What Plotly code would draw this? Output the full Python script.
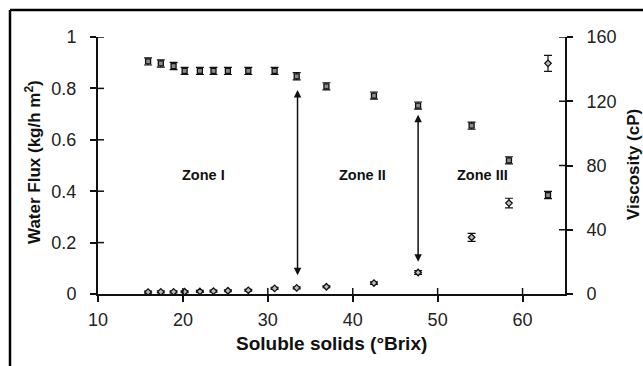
import plotly.graph_objects as go

# Data
brix = [15.9, 17.4, 18.9, 20.2, 22.0, 23.6, 25.3, 27.7, 30.8, 33.4, 36.9, 42.5, 47.7, 54.0, 58.4, 63.0]
flux = [0.905, 0.897, 0.887, 0.868, 0.868, 0.868, 0.868, 0.868, 0.868, 0.847, 0.808, 0.772, 0.733, 0.655, 0.52, 0.385]
flux_err = [0.014] * 16
visc = [1.2, 1.3, 1.3, 1.4, 1.6, 1.8, 2.0, 2.3, 3.5, 3.8, 4.5, 6.8, 13.4, 35.3, 56.6, 143.6]
visc_err = [0.6, 0.6, 0.6, 0.6, 0.6, 0.6, 0.6, 0.6, 0.6, 0.6, 0.6, 0.8, 1.2, 2.5, 3.0, 5.0]

x_ticks = [10, 20, 30, 40, 50, 60]
y1_ticks = [0, 0.2, 0.4, 0.6, 0.8, 1.0]
y1_labels = ["0", "0.2", "0.4", "0.6", "0.8", "1"]
y2_ticks = [0, 40, 80, 120, 160]

zones = ["Zone I", "Zone II", "Zone III"]
zone_x = [22.4, 41.2, 55.3]
zone_y = [0.463, 0.463, 0.463]

# arrows: (x, top, bottom)
arrow_x = [33.5, 47.7]
arrow_top = [0.794, 0.697]
arrow_bot = [0.067, 0.12]

W, H = 643, 366
L, R, T, B = 98, 78, 37, 72
pw, ph = W - L - R, H - T - B

font = "Liberation Sans, Arial, sans-serif"

fig = go.Figure()
fig.add_trace(go.Scatter(
    x=brix, y=flux, mode="markers", yaxis="y",
    marker=dict(symbol="square", size=5, color="#8a8a8a", line=dict(color="#111", width=1.3)),
    error_y=dict(type="data", array=flux_err, color="#111", thickness=1.2, width=4),
    showlegend=False))
fig.add_trace(go.Scatter(
    x=brix, y=visc, mode="markers", yaxis="y2",
    marker=dict(symbol="diamond", size=5, color="#bbbbbb", line=dict(color="#111", width=1.3)),
    error_y=dict(type="data", array=visc_err, color="#111", thickness=1.2, width=4),
    showlegend=False))

shapes = []
tl = 6
# inside halves of crossing ticks
for xv in x_ticks[1:]:
    shapes.append(dict(type="line", xref="x", yref="paper", x0=xv, x1=xv, y0=0, y1=tl / ph,
                       line=dict(color="#111", width=1.5)))
for yv in y1_ticks[1:]:
    shapes.append(dict(type="line", xref="paper", yref="y", x0=0, x1=tl / pw, y0=yv, y1=yv,
                       line=dict(color="#111", width=1.5)))
for yv in y2_ticks[1:]:
    shapes.append(dict(type="line", xref="paper", yref="y2", x0=1 - tl / pw, x1=1, y0=yv, y1=yv,
                       line=dict(color="#111", width=1.5)))
# outer frame (left and top)
fx = (10 - L) / pw
fy = 1 + (T - 10) / ph
shapes.append(dict(type="line", xref="paper", yref="paper", x0=fx, x1=fx, y0=fy, y1=-(H - T - ph + 5) / ph,
                   line=dict(color="#000", width=2.5)))
shapes.append(dict(type="line", xref="paper", yref="paper", x0=fx, x1=(W + 5 - L) / pw, y0=fy, y1=fy,
                   line=dict(color="#000", width=2.5)))

annotations = []
for t, xv, yv in zip(zones, zone_x, zone_y):
    annotations.append(dict(x=xv, y=yv, xref="x", yref="y", text="<b>" + t + "</b>", showarrow=False,
                            font=dict(family=font, size=14.5, color="#111")))
for xv, yt, yb in zip(arrow_x, arrow_top, arrow_bot):
    annotations.append(dict(x=xv, y=yt, ax=xv, ay=yb, xref="x", yref="y", axref="x", ayref="y",
                            text="", showarrow=True, arrowhead=2, startarrowhead=2, arrowside="end+start",
                            arrowsize=1, arrowwidth=1.5, arrowcolor="#111"))
# axis titles
annotations.append(dict(x=(33 - L) / pw, y=(T + ph - 162) / ph, xref="paper", yref="paper",
                        text="<b>Water Flux (kg/h m<sup>2</sup>)</b>", textangle=-90, showarrow=False,
                        font=dict(family=font, size=17, color="#111"), xanchor="center", yanchor="middle"))
annotations.append(dict(x=(633 - L) / pw, y=(T + ph - 165) / ph, xref="paper", yref="paper",
                        text="<b>Viscosity (cP)</b>", textangle=-90, showarrow=False,
                        font=dict(family=font, size=17, color="#111"), xanchor="center", yanchor="middle"))
annotations.append(dict(x=(331 - L) / pw, y=-(343 - T - ph) / ph, xref="paper", yref="paper",
                        text="<b>Soluble solids (°Brix)</b>", showarrow=False,
                        font=dict(family=font, size=19, color="#111"), xanchor="center", yanchor="middle"))

fig.update_layout(
    width=W, height=H,
    margin=dict(l=L, r=R, t=T, b=B, pad=0),
    paper_bgcolor="white", plot_bgcolor="white",
    font=dict(family=font, size=18, color="#222"),
    xaxis=dict(range=[10, 65], tickvals=x_ticks, showgrid=False, zeroline=False,
               showline=True, linecolor="#111", linewidth=2, ticks="outside", ticklen=tl,
               tickwidth=1.5, tickcolor="#111", ticklabelstandoff=2),
    yaxis=dict(range=[0, 1], tickvals=y1_ticks, ticktext=y1_labels, showgrid=False, zeroline=False,
               showline=True, linecolor="#111", linewidth=2, ticks="outside", ticklen=tl,
               tickwidth=1.5, tickcolor="#111", ticklabelstandoff=10),
    yaxis2=dict(range=[0, 160], tickvals=y2_ticks, overlaying="y", side="right", showgrid=False,
                zeroline=False, showline=True, linecolor="#111", linewidth=2, ticks="outside",
                ticklen=tl, tickwidth=1.5, tickcolor="#111", ticklabelstandoff=10),
    shapes=shapes, annotations=annotations,
)

fig.write_html("out.html")
